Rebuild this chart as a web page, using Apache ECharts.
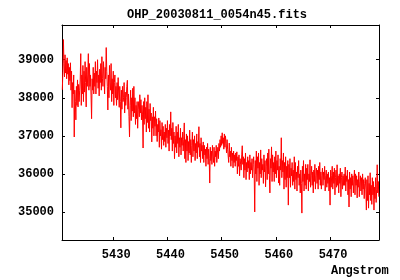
<!DOCTYPE html>
<html><head><meta charset="utf-8">
<script src="https://cdn.jsdelivr.net/npm/echarts@6/dist/echarts.min.js"></script>
<style>html,body{margin:0;padding:0;background:#fff}#c{width:400px;height:280px}</style>
</head><body><div id="c"></div>
<script>
const titleText = 'OHP_20030811_0054n45.fits';
const xAxisName = 'Angstrom';
const lambdaStart = 5420.6;
const lambdaStep = 0.1;
const xTicks = [5430, 5440, 5450, 5460, 5470];
const yTicks = [35000, 36000, 37000, 38000, 39000];
const flux = [
  38210, 38700, 39530, 38900, 38550, 39130, 38650, 38980, 38500, 39050,
  38620, 38900, 38340, 38800, 38450, 38920, 38200, 38700, 37740, 38400,
  38100, 38600, 36970, 38200, 37900, 37420, 38300, 37800, 38470, 37760,
  38350, 37900, 38200, 38470, 39160, 37800, 38600, 38100, 38850, 37900,
  38700, 38150, 38950, 38400, 37760, 38800, 38300, 38600, 39160, 38200,
  38900, 38300, 38600, 38050, 37450, 38500, 38200, 38800, 38100, 38650,
  38300, 38950, 38100, 38700, 38400, 39000, 38250, 38600, 38050, 38750,
  38400, 38900, 38200, 39080, 38500, 38300, 38950, 38600, 38100, 38800,
  38500, 39320, 38700, 38300, 37680, 38600, 38000, 38850, 38400, 38200,
  38900, 37900, 38500, 38100, 38700, 37800, 38400, 38600, 38000, 38300,
  37800, 38400, 37950, 38530, 38100, 37750, 38300, 37900, 37210, 38200,
  37700, 38300, 37900, 38000, 38400, 37600, 38150, 37800, 38000, 38300,
  38460, 37700, 38100, 37500, 36970, 37800, 38200, 37400, 38000, 37650,
  38250, 37500, 38300, 37600, 38000, 37300, 37800, 37450, 37900, 37200,
  37700, 37900, 37500, 38080, 37600, 37950, 37420, 37800, 37550, 36680,
  37900, 37300, 38000, 37450, 37750, 37100, 37900, 37350, 38080, 37200,
  37700, 37100, 37850, 37400, 37600, 36840, 37500, 37200, 37750, 37000,
  37500, 37250, 37650, 37000, 37450, 36850, 37300, 37100, 37470, 36700,
  37400, 37000, 37160, 36650, 37350, 36900, 37250, 36750, 37100, 36850,
  37300, 36700, 37200, 36950, 37400, 36800, 37150, 36600, 37300, 37000,
  37630, 36900, 37200, 36600, 37350, 36800, 37100, 36400, 37000, 36700,
  37250, 36550, 37100, 36800, 37300, 36450, 36950, 36700, 37200, 36500,
  36950, 36750, 37100, 36600, 36900, 37340, 36400, 36900, 36300, 37050,
  36600, 37000, 36350, 36850, 36550, 37150, 36500, 36900, 36300, 36750,
  37100, 36450, 36900, 36600, 37000, 36350, 36800, 36550, 37050, 36400,
  36850, 36700, 37240, 36450, 36800, 36300, 36950, 36600, 36750, 36400,
  36840, 36300, 36750, 36500, 36650, 36200, 36700, 36400, 36800, 36250,
  36650, 36400, 35760, 36700, 36350, 36600, 36250, 36750, 36450, 36300,
  36700, 36200, 36600, 36450, 36750, 36300, 36550, 36700, 36400, 36800,
  36600, 36900, 36700, 37000, 36750, 37080, 36800, 36950, 36650, 37050,
  36700, 37000, 36800, 36550, 36900, 36650, 36700, 36300, 36810, 36450,
  36600, 36200, 36700, 36350, 36550, 36160, 36600, 36300, 36500, 36200,
  36550, 36350, 36580, 36000, 36450, 36200, 36500, 35950, 36400, 36250,
  36100, 36500, 36740, 36250, 36450, 35900, 36400, 36100, 36550, 35850,
  36300, 36050, 36450, 36150, 36350, 35850, 36500, 36000, 36300, 36100,
  36400, 35900, 36250, 36450, 36050, 35000, 36350, 36000, 36600, 35800,
  36450, 36150, 36550, 35700, 36300, 36000, 36630, 35900, 36400, 36100,
  36250, 35750, 36500, 36050, 36350, 35660, 36200, 36400, 35850, 36550,
  36000, 36650, 35950, 35500, 36400, 36150, 36710, 35800, 36500, 36050,
  36300, 35800, 36450, 36000, 36600, 35900, 36350, 36100, 36500, 35760,
  36200, 35700, 36400, 36100, 36950, 35900, 36350, 36050, 36550, 35600,
  36300, 35850, 36450, 35650, 36200, 35900, 36350, 35180, 36250, 35900,
  36400, 35650, 36150, 35950, 36300, 35700, 36100, 35800, 36450, 35600,
  36300, 35850, 36050, 35550, 36200, 35900, 36350, 35700, 36000, 35500,
  36100, 35750, 34970, 36200, 35800, 36350, 35550, 36000, 35700, 36250,
  35600, 36150, 35850, 36250, 35550, 36000, 35800, 36370, 35650, 35950,
  36200, 35700, 36050, 35500, 36100, 35800, 36250, 35600, 35950, 36150,
  35750, 36100, 35600, 36200, 35850, 36300, 35700, 36050, 35600, 35950,
  36150, 35700, 36050, 35850, 36200, 35550, 35950, 36100, 35650, 36000,
  35750, 36050, 35550, 35900, 35180, 36100, 35650, 35950, 36200, 35600,
  36050, 35750, 36150, 35450, 35900, 36100, 35650, 36240, 35700, 35950,
  35500, 36000, 35750, 36150, 35400, 35900, 36050, 35600, 35950, 35700,
  36000, 35700, 36180, 35550, 35950, 35800, 36100, 35450, 35850, 35130,
  36050, 35600, 35900, 35400, 36000, 35700, 35950, 35500, 35850, 36100,
  35450, 36000, 35700, 35950, 35370, 35850, 35650, 36050, 35400, 35800,
  35950, 35550, 35900, 35450, 36000, 35600, 35850, 35350, 35750, 35900,
  35600, 35050, 35850, 35300, 35950, 35100, 35750, 35450, 36030, 35300,
  35700, 35200, 35900, 35450, 35800, 35050, 35650, 35350, 35900, 35250,
  35600, 36240, 35500, 35800, 35400
];

const points = flux.map((v, i) => [+(lambdaStart + lambdaStep * i).toFixed(2), v]);
const font = { fontFamily: 'Liberation Mono', fontWeight: 'bold', fontSize: 12, color: '#000' };
const axisLine = { show: true, lineStyle: { color: '#000', width: 1 } };
const xRange = { min: 5420.54, max: 5479.03 };
const yRange = { min: 34263, max: 39913 };

const chart = echarts.init(document.getElementById('c'), null, { renderer: 'canvas' });
chart.setOption({
  animation: false,
  backgroundColor: '#fff',
  grid: { left: 62, right: 21, top: 25, bottom: 40, containLabel: false },
  xAxis: [
    Object.assign({ type: 'value', position: 'bottom', axisLine,
      axisTick: { show: true, inside: true, length: 3, lineStyle: { color: '#000' }, customValues: xTicks },
      axisLabel: Object.assign({ margin: 9, customValues: xTicks, padding: [0, 0, 0, 6], formatter: v => String(v) }, font),
      splitLine: { show: false } }, xRange),
    Object.assign({ type: 'value', position: 'top', axisLine,
      axisTick: { show: true, inside: true, length: 3, lineStyle: { color: '#000' }, customValues: xTicks },
      axisLabel: { show: false }, splitLine: { show: false } }, xRange)
  ],
  yAxis: [
    Object.assign({ type: 'value', position: 'left', axisLine,
      axisTick: { show: true, inside: true, length: 3, lineStyle: { color: '#000' }, customValues: yTicks },
      axisLabel: Object.assign({ margin: 8, customValues: yTicks, formatter: v => String(v) }, font),
      splitLine: { show: false } }, yRange),
    Object.assign({ type: 'value', position: 'right', axisLine,
      axisTick: { show: true, inside: true, length: 3, lineStyle: { color: '#000' }, customValues: yTicks },
      axisLabel: { show: false }, splitLine: { show: false } }, yRange)
  ],
  graphic: [
    { type: 'text', left: 127, top: 9, style: { text: titleText, fill: '#000', font: 'bold 12px "Liberation Mono"' } },
    { type: 'text', left: 331, top: 265, style: { text: xAxisName, fill: '#000', font: 'bold 12px "Liberation Mono"' } }
  ],
  series: [{
    type: 'line', data: points, xAxisIndex: 0, yAxisIndex: 0,
    showSymbol: false, symbol: 'none', clip: true,
    lineStyle: { color: '#ff0000', width: 1 }
  }]
});
</script></body></html>
